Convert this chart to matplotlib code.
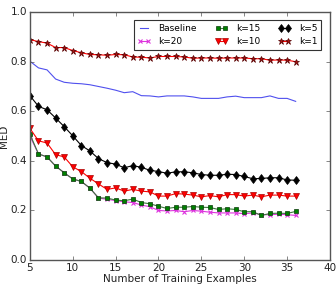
import numpy as np
import matplotlib
matplotlib.use("Agg")
import matplotlib.pyplot as plt

plt.style.use("classic")

x = list(range(5, 37))

baseline = [0.802, 0.775, 0.767, 0.730, 0.717, 0.713, 0.711, 0.707, 0.700, 0.693,
            0.685, 0.675, 0.679, 0.663, 0.662, 0.658, 0.662, 0.662, 0.662, 0.658,
            0.652, 0.652, 0.652, 0.658, 0.661, 0.655, 0.655, 0.655, 0.662, 0.652,
            0.652, 0.640]
k20 = [0.500, 0.428, 0.416, 0.379, 0.352, 0.327, 0.317, 0.290, 0.250, 0.245,
       0.240, 0.235, 0.232, 0.222, 0.215, 0.200, 0.198, 0.200, 0.195, 0.200,
       0.197, 0.193, 0.190, 0.190, 0.190, 0.187, 0.190, 0.183, 0.183, 0.185,
       0.183, 0.180]
k15 = [0.508, 0.428, 0.416, 0.379, 0.352, 0.327, 0.317, 0.290, 0.251, 0.250,
       0.242, 0.239, 0.246, 0.232, 0.227, 0.217, 0.208, 0.213, 0.213, 0.216,
       0.213, 0.212, 0.204, 0.207, 0.204, 0.195, 0.195, 0.180, 0.188, 0.189,
       0.188, 0.196]
k10 = [0.531, 0.481, 0.472, 0.425, 0.416, 0.376, 0.357, 0.330, 0.307, 0.285,
       0.291, 0.278, 0.285, 0.278, 0.275, 0.258, 0.258, 0.268, 0.266, 0.262,
       0.255, 0.260, 0.255, 0.264, 0.264, 0.258, 0.262, 0.255, 0.262, 0.262,
       0.258, 0.258]
k5 = [0.663, 0.620, 0.606, 0.573, 0.538, 0.501, 0.462, 0.440, 0.409, 0.393,
      0.387, 0.372, 0.381, 0.374, 0.362, 0.357, 0.350, 0.356, 0.356, 0.352,
      0.345, 0.342, 0.342, 0.346, 0.345, 0.337, 0.328, 0.329, 0.332, 0.332,
      0.323, 0.322]
k1 = [0.889, 0.881, 0.875, 0.857, 0.857, 0.845, 0.836, 0.829, 0.828, 0.826,
      0.829, 0.828, 0.819, 0.818, 0.815, 0.821, 0.821, 0.821, 0.819, 0.814,
      0.815, 0.815, 0.814, 0.815, 0.815, 0.815, 0.812, 0.812, 0.806, 0.807,
      0.806, 0.800]

plt.rcParams["axes.edgecolor"] = "#555555"
plt.rcParams["xtick.color"] = "#555555"
plt.rcParams["ytick.color"] = "#555555"

fig = plt.figure(figsize=(3.36, 2.88), dpi=100, facecolor="white")
ax = fig.add_axes([0.089, 0.097, 0.893, 0.861])

ms = 3.5
ax.plot(x, baseline, color="#5050ee", lw=0.8, label="Baseline")
ax.plot(x, k20, color="#dd33dd", marker="x", ms=ms, mew=0.8, lw=0.8, label="k=20")
ax.plot(x, k15, color="#3a7a3a", marker="s", ms=ms, mfc="green", mec="#0a3a0a",
        mew=0.5, lw=0.8, label="k=15")
ax.plot(x, k10, color="red", marker="v", ms=ms + 0.8, mfc="red", mec="#aa0000",
        mew=0.5, lw=0.8, label="k=10")
ax.plot(x, k5, color="k", marker="d", ms=ms + 0.8, mew=0.5, lw=0.8, label="k=5")
ax.plot(x, k1, color="red", marker="*", ms=ms + 1.2, mfc="#aa1010", mec="#550000",
        mew=0.5, lw=0.8, label="k=1")

ax.set_xlim(5, 40)
ax.set_ylim(0, 1.0)
ax.set_xticks([5, 10, 15, 20, 25, 30, 35, 40])
ax.set_yticks([0.0, 0.2, 0.4, 0.6, 0.8, 1.0])
ax.tick_params(labelsize=7.5, labelcolor="#222222", length=3, pad=2)
ax.set_xlabel("Number of Training Examples", fontsize=7.5, labelpad=1,
              color="#222222")
ax.set_ylabel("MED", fontsize=7.5, labelpad=1, color="#222222")

leg = ax.legend(loc="upper right", ncol=3, fontsize=6.5, numpoints=2,
                handlelength=1.4, columnspacing=2.0, borderpad=0.4,
                labelspacing=0.45, handletextpad=0.9, fancybox=False,
                frameon=True, bbox_to_anchor=(0.985, 0.985))
leg.get_frame().set_edgecolor("#333333")
leg.get_frame().set_linewidth(0.8)

fig.savefig("out.png", dpi=100, facecolor="white")
